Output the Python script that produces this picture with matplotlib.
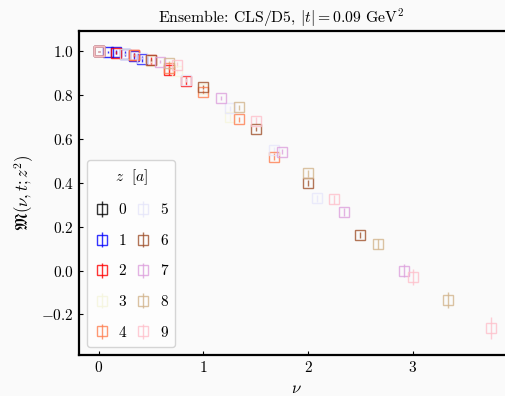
import numpy as np
from matplotlib import pyplot as plt

plt.rcParams['font.family'] = 'serif'
plt.rcParams['font.serif'] = ['cmr10']
plt.rcParams['mathtext.fontset'] = 'cm'
plt.rcParams['axes.formatter.use_mathtext'] = True

# data, one list per z
z_labels = [0, 1, 2, 3, 4, 5, 6, 7, 8, 9]
colors = ['k', 'b', 'r', 'beige', 'coral', 'lavender', 'sienna', 'plum', 'tan', 'pink']

nu = {
    0: [0.0],
    1: [0.0, 0.084, 0.167, 0.25, 0.334, 0.4175],
    2: [0.0, 0.167, 0.334, 0.50, 0.668, 0.835],
    3: [0.0, 0.25, 0.50, 0.75, 1.00, 1.25],
    4: [0.0, 0.334, 0.668, 1.00, 1.336, 1.67],
    5: [0.0, 0.4175, 0.835, 1.25, 1.67, 2.09],
    6: [0.0, 0.50, 1.00, 1.50, 2.00, 2.50],
    7: [0.0, 0.585, 1.17, 1.75, 2.34, 2.92],
    8: [0.0, 0.668, 1.336, 2.00, 2.67, 3.34],
    9: [0.0, 0.75, 1.50, 2.25, 3.00, 3.75],
}
M = {
    0: [1.0],
    1: [1.0, 0.999, 0.997, 0.99, 0.98, 0.965],
    2: [1.0, 0.995, 0.985, 0.96, 0.915, 0.865],
    3: [1.0, 0.99, 0.955, 0.91, 0.83, 0.70],
    4: [1.0, 0.985, 0.925, 0.815, 0.69, 0.52],
    5: [1.0, 0.97, 0.87, 0.74, 0.55, 0.33],
    6: [1.0, 0.962, 0.838, 0.647, 0.40, 0.163],
    7: [1.0, 0.953, 0.789, 0.542, 0.268, 0.0],
    8: [1.0, 0.948, 0.745, 0.444, 0.122, -0.134],
    9: [1.0, 0.94, 0.684, 0.325, -0.029, -0.262],
}
M_err = {
    0: [0.002],
    1: [0.002, 0.005, 0.008, 0.01, 0.012, 0.015],
    2: [0.002, 0.006, 0.01, 0.015, 0.02, 0.02],
    3: [0.002, 0.005, 0.008, 0.01, 0.012, 0.015],
    4: [0.002, 0.005, 0.008, 0.01, 0.012, 0.015],
    5: [0.002, 0.005, 0.008, 0.01, 0.012, 0.015],
    6: [0.002, 0.005, 0.008, 0.01, 0.012, 0.015],
    7: [0.002, 0.006, 0.01, 0.012, 0.018, 0.03],
    8: [0.002, 0.008, 0.012, 0.015, 0.022, 0.035],
    9: [0.002, 0.01, 0.015, 0.02, 0.035, 0.05],
}

fig = plt.figure(figsize=(5.06, 3.96), dpi=100, facecolor='#fafafa')
ax = fig.add_axes([0.156, 0.104, 0.86, 0.818], facecolor='#fafafa')

for i, z in enumerate(z_labels):
    ax.errorbar(nu[z], M[z], yerr=M_err[z], fmt='s', color=colors[i], mfc='none',
                ms=7.5, mew=1.0, elinewidth=1.0, alpha=0.8, label=str(z))

ax.set_xlim(-0.19, 3.97)
ax.set_ylim(-0.384, 1.094)
ax.set_xticks([0, 1, 2, 3])
ax.set_yticks([-0.2, 0.0, 0.2, 0.4, 0.6, 0.8, 1.0])
ax.tick_params(direction='in', length=3, labelsize=11)
for s in ax.spines.values():
    s.set_linewidth(1.6)

ax.set_xlabel(r'$\nu$', fontsize=12, labelpad=4)
ax.set_ylabel(r'$\mathfrak{M}(\nu,t;z^2)$', fontsize=12)
ax.set_title(r'Ensemble: CLS/D5, $|t|=0.09$ GeV$^2$', fontsize=11.3, x=0.465)

leg = ax.legend(title=r'$z\ \ [a]$', ncol=2, loc='lower left', fontsize=11,
                title_fontsize=11, frameon=True, handlelength=1.0,
                handletextpad=0.6, columnspacing=0.6, labelspacing=1.1,
                borderpad=0.5)
leg.get_frame().set_edgecolor('#cccccc')

plt.savefig('out.png', dpi=100, facecolor=fig.get_facecolor())
